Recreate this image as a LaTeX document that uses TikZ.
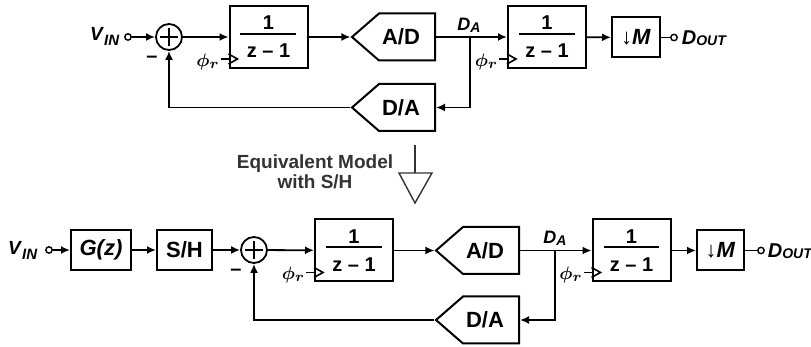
\documentclass[tikz,border=0pt]{standalone}
\usepackage{fontspec}
\setmainfont{Liberation Sans}
\usetikzlibrary{arrows.meta,shapes.symbols,positioning}

% 1/(z-1) with a heavy bar
\newcommand{\intf}{\vbox{\offinterlineskip
    \hbox to 28pt{\hfil 1\hfil}\kern1.5pt
    \hrule height 1pt width 28pt\kern4.5pt
    \hbox to 28pt{\hfil z -- 1\hfil}}}
\newcommand{\dnsym}{↓}
\newcommand{\lsub}[3]{\raisebox{-#1}{\fontsize{#2}{#2}\selectfont\itshape #3}}

\tikzset{
  integ/.style={draw,line width=1pt,minimum width=39pt,minimum height=31pt,inner sep=0pt,
    font=\bfseries\fontsize{10}{10}\selectfont},
  blk/.style={draw,line width=1pt,minimum height=20pt,inner sep=0pt,
    font=\bfseries\fontsize{11}{12}\selectfont},
  conv/.style={draw,line width=1pt,shape=signal,signal to=west,signal from=nowhere,
    signal pointer angle=82,minimum width=41.5pt,minimum height=23.5pt,inner sep=0pt,
    anchor=east,font=\bfseries\fontsize{11}{12}\selectfont},
  summer/.style={circle,draw,minimum size=13pt,inner sep=0pt,
    path picture={
      \draw[shorten <=2pt,shorten >=2pt] (path picture bounding box.north) -- (path picture bounding box.south);
      \draw[shorten <=2pt,shorten >=2pt] (path picture bounding box.west) -- (path picture bounding box.east);}},
  term/.style={circle,draw,line width=0.7pt,fill=white,minimum size=3.2pt,inner sep=0pt},
  lbl/.style={inner sep=0pt,font=\bfseries\fontsize{10}{10}\selectfont},
  dlbl/.style={inner sep=0pt,font=\bfseries\fontsize{9}{9}\selectfont},
  minus/.style={inner sep=0pt,font=\bfseries\fontsize{10}{10}\selectfont},
  phil/.style={inner sep=0pt,font=\fontsize{9.5}{10}\selectfont\boldmath},
}

\begin{document}
\begin{tikzpicture}[x=0.5pt,y=-0.5pt,line width=0.9pt,>={Latex[length=4.5pt,width=4pt]}]
    \useasboundingbox (0,0) rectangle (811,347);
    % original loop
    \node[lbl,anchor=base east,font=\bfseries\fontsize{9.5}{10}\selectfont] (vin1) at (120,41) {\textit{V}\lsub{2.5pt}{7.5}{IN}};
    \node[term] (tin1) at (128,37) {};
    \node[summer] (sum1) at (169,37) {};
    \node[minus] (neg1) at (152,59) {--};
    \node[integ] (int1) at (268.5,37) {\intf};
    \node[conv] (adc1) at (436,37) {\kern-3pt A/D\kern3pt};
    \node[conv] (dac1) at (436,107.5) {\kern-3pt D/A\kern3pt};
    \coordinate (da1) at (470,37);
    \node[dlbl,anchor=base] (dal1) at (469,31) {\textit{D}\lsub{1pt}{7}{A}};
    \node[integ] (int2) at (547,37) {\intf};
    \node[blk,minimum width=24pt] (dec1) at (636,37.5) {\dnsym\textit{M}};
    \node[term] (tout1) at (674,37.5) {};
    \node[lbl,anchor=base west] (dout1) at (681,44.5) {\textit{D}\lsub{0.5pt}{7}{OUT}};
    \draw[->] (tin1) -- (sum1);
    \draw[->] (sum1) -- (int1);
    \draw[->] (int1) -- (adc1.west);
    \draw[->] (adc1.east) -- (da1) -- (int2);
    \draw[->] (da1) |- (dac1.east);
    \draw[->] (dac1.west) -| (sum1.south);
    \draw[->] (int2) -- (dec1);
    \draw (dec1) -- (tout1);
    % equivalent model arrow
    \node[align=center,inner sep=0pt,text=black!80,
      font=\bfseries\fontsize{9.5}{9.8}\selectfont] (eqm) at (315,172) {Equivalent Model\\with S/H};
    \coordinate (ar0) at (415,145);
    \coordinate (ar1) at (415,173);
    \draw[black!80,line width=0.7pt] (ar0) -- (ar1);
    \draw[black!80,line width=0.7pt,line join=miter] (399,173) -- (432,173) -- (415,203) -- cycle;
    % model with S/H
    \node[lbl,anchor=base east,font=\bfseries\fontsize{9.5}{10}\selectfont] (vin2) at (38,255) {\textit{V}\lsub{2.5pt}{7.5}{IN}};
    \node[term] (tin2) at (49,250) {};
    \node[blk,minimum width=30pt] (gz) at (101,250) {\textit{G(z)}};
    \node[blk,minimum width=27.5pt] (sh) at (184.5,250) {S/H};
    \node[summer] (sum2) at (254,250) {};
    \node[minus] (neg2) at (236,272) {--};
    \node[integ] (int3) at (354,250.5) {\intf};
    \node[conv] (adc2) at (520,250.5) {\kern-3pt A/D\kern3pt};
    \node[conv] (dac2) at (520,320) {\kern-3pt D/A\kern3pt};
    \coordinate (da2) at (555,250.5);
    \node[dlbl,anchor=base] (dal2) at (555,244) {\textit{D}\lsub{1pt}{7}{A}};
    \node[integ] (int4) at (631.5,250.5) {\intf};
    \node[blk,minimum width=23.5pt] (dec2) at (720.5,250.5) {\dnsym\textit{M}};
    \node[term] (tout2) at (761,250.5) {};
    \node[lbl,anchor=base west] (dout2) at (767,257.5) {\textit{D}\lsub{0.5pt}{7}{OUT}};
    \draw[->] (tin2) -- (gz);
    \draw[->] (gz) -- (sh);
    \draw[->] (sh) -- (sum2);
    \draw[->] (sum2) -- (int3);
    \draw[->] (int3) -- (adc2.west);
    \draw[->] (adc2.east) -- (da2) -- (int4);
    \draw[->] (da2) |- (dac2.east);
    \draw[->] (dac2.west) -| (sum2.south);
    \draw[->] (int4) -- (dec2);
    \draw (dec2) -- (tout2);
    % clock inputs
    \foreach \n in {int1,int2,int3,int4} {
        \draw[line width=0.8pt] ([yshift=7.5pt]\n.south west) -- ++(4.5pt,-2.5pt) -- ++(-4.5pt,-2.5pt);
        \node[phil,anchor=east] (phi-\n) at ([xshift=-4pt,yshift=3.5pt]\n.south west) {$\phi_r$};
        \draw[line width=0.8pt] ([yshift=5pt]\n.south west) -- ++(-4pt,0);
    }
\end{tikzpicture}
\end{document}
